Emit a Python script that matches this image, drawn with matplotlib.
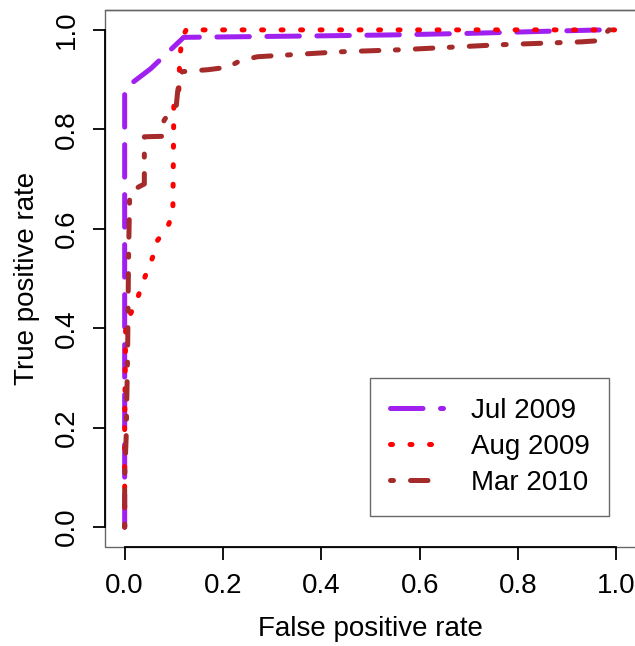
import matplotlib
matplotlib.use('Agg')
import matplotlib.pyplot as plt
from matplotlib.patches import Rectangle

plt.rcParams['font.family'] = ['Liberation Sans', 'DejaVu Sans']

# ROC curves
jul_fpr = [0.0, 0.0, 0.053, 0.12, 0.40, 0.55, 0.70, 0.85, 0.97, 1.0]
jul_tpr = [0.0, 0.882, 0.922, 0.985, 0.988, 0.990, 0.993, 0.997, 1.0, 1.0]

aug_fpr = [0.0, 0.0, 0.002, 0.008, 0.026, 0.040, 0.057, 0.067, 0.087, 0.098,
           0.100, 0.107, 0.110, 0.112, 0.117, 0.125, 1.0]
aug_tpr = [0.0, 0.20, 0.40, 0.42, 0.46, 0.50, 0.543, 0.577, 0.603, 0.63,
           0.85, 0.868, 0.872, 0.944, 0.984, 1.0, 1.0]

mar_fpr = [0.0, 0.0, 0.003, 0.006, 0.008, 0.010, 0.013, 0.030, 0.040, 0.040,
           0.077, 0.080, 0.097, 0.105, 0.108, 0.114, 0.117, 0.170, 0.210, 0.235,
           0.270, 0.440, 0.560, 0.760, 0.930, 0.960, 0.975, 0.985, 1.0]
mar_tpr = [0.0, 0.10, 0.18, 0.35, 0.55, 0.66, 0.675, 0.685, 0.69, 0.785,
           0.786, 0.818, 0.842, 0.848, 0.878, 0.905, 0.916, 0.920, 0.925, 0.938,
           0.946, 0.956, 0.960, 0.970, 0.976, 0.978, 0.990, 1.0, 1.0]

labels = ['Jul 2009', 'Aug 2009', 'Mar 2010']
ticks = [0.0, 0.2, 0.4, 0.6, 0.8, 1.0]
tick_labels = ['0.0', '0.2', '0.4', '0.6', '0.8', '1.0']

fig = plt.figure(figsize=(6.35, 6.46), dpi=100)
ax = fig.add_axes([105 / 635, 99 / 646, 531 / 635, 537 / 646])

lw = 3.6
ax.plot(jul_fpr, jul_tpr, color='#A020F0', lw=lw, dashes=(6.5, 3.5),
        dash_capstyle='round', solid_capstyle='round', label=labels[0])
ax.plot(aug_fpr, aug_tpr, color='#FF0000', lw=lw, dashes=(0.4, 3.5),
        dash_capstyle='round', label=labels[1])
ax.plot(mar_fpr, mar_tpr, color='#A52A2A', lw=lw, dashes=(0.6, 3.4, 3.5, 3.3),
        dash_capstyle='round', label=labels[2])

ax.set_xlim(-0.04, 1.04)
ax.set_ylim(-0.04, 1.04)
ax.set_xticks(ticks)
ax.set_xticklabels(tick_labels)
ax.set_yticks(ticks)
ax.set_yticklabels(tick_labels, rotation=90, va='center')

for side in ['top', 'right']:
    ax.spines[side].set_color('#666666')
    ax.spines[side].set_linewidth(1.0)
for side in ['left', 'bottom']:
    ax.spines[side].set_bounds(0, 1)
    ax.spines[side].set_linewidth(1.3)
    ax.spines[side].set_color('black')
ax.add_patch(Rectangle((0, 0), 1, 1, transform=ax.transAxes, fill=False,
                       edgecolor='#666666', lw=1.0, zorder=0.5, clip_on=False))

ax.tick_params(direction='out', length=9, width=1.3, labelsize=20, pad=9)
ax.tick_params(axis='x', pad=10)
ax.set_xlabel('False positive rate', fontsize=20, labelpad=12)
ax.set_ylabel('True positive rate', fontsize=20, labelpad=10)

leg = ax.legend(loc='upper left', bbox_to_anchor=(370 / 635, 1 - 378 / 646),
                bbox_transform=fig.transFigure, fontsize=20, frameon=True,
                fancybox=False, edgecolor='#444444', handlelength=1.9,
                handletextpad=1.0, borderpad=0.72, labelspacing=0.36,
                borderaxespad=0)
leg.get_frame().set_linewidth(1.0)

fig.savefig('out.png', dpi=100)
